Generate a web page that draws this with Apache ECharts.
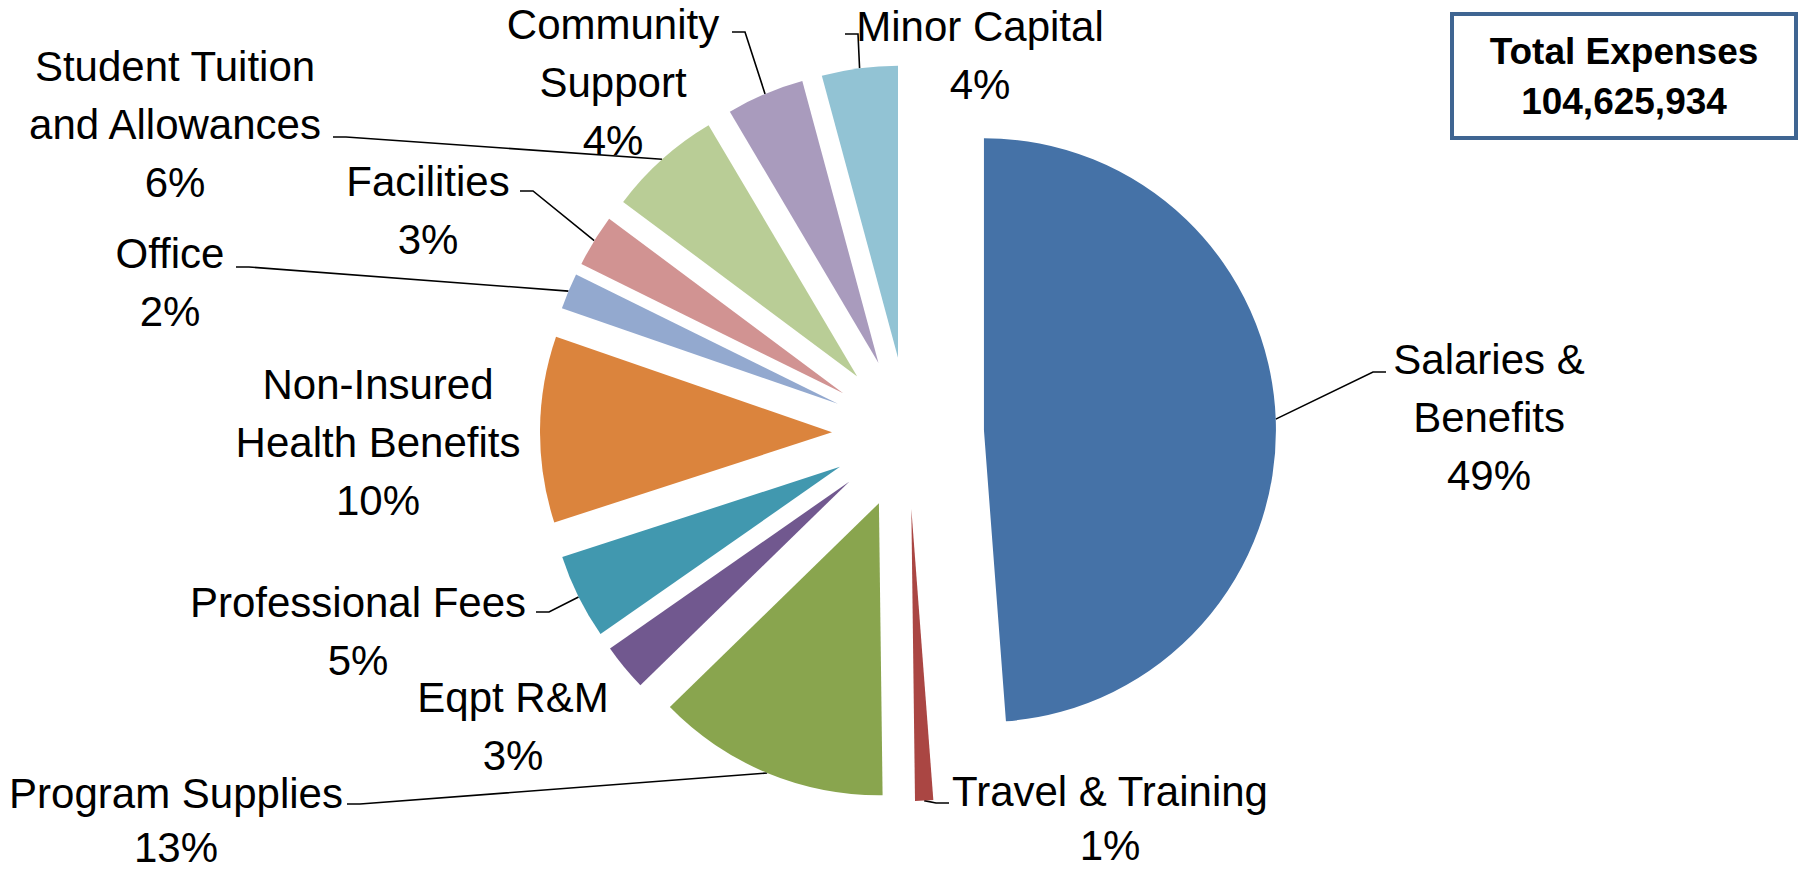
<!DOCTYPE html>
<html>
<head>
<meta charset="utf-8">
<script src="https://cdn.jsdelivr.net/npm/echarts@6/dist/echarts.min.js"></script>
<style>
  html, body { margin: 0; padding: 0; background: #fff; }
  #chart { width: 1798px; height: 874px; }
</style>
</head>
<body>
<div id="chart"></div>
<script>
  // slices, clockwise from 12 o'clock
  const categories = ['Salaries &\nBenefits', 'Travel & Training', 'Program Supplies', 'Eqpt R&M',
    'Professional Fees', 'Non-Insured\nHealth Benefits', 'Office', 'Facilities',
    'Student Tuition\nand Allowances', 'Community\nSupport', 'Minor Capital']
  // % of total expenses (labels show them rounded)
  const shares = [48.8, 1.0, 12.9, 2.6, 4.7, 10.3, 2.0, 2.9, 6.3, 4.3, 4.2]
  const colors = ['#4572A7', '#AA4643', '#89A54E', '#71588F', '#4198AF', '#DB843D',
    '#93A9CF', '#D19392', '#B9CD96', '#A99BBD', '#92C3D4']
  const totalLabel = 'Total Expenses\n104,625,934'

  // label block centres
  const labelX = [1489, 1110, 176, 513, 358, 378, 170, 428, 175, 613, 980]
  const labelY = [417, 818, 820, 726, 631, 442, 282, 210, 124, 82, 55]
  // where the leader line meets the label (null = no leader line)
  const lineEndX = [1386, 949, 347, null, 536, null, 236, 520, 333, 732, 845]
  const lineEndY = [372, 803, 804, null, 612, null, 267, 191, 137, 32, 34]

  const pieCenter = [908, 433]
  const pieRadius = 292
  const explode = 76

  const chart = echarts.init(document.getElementById('chart'), null, { renderer: 'svg' })

  // visible, exploded slices
  const sliceData = categories.map(function (name, i) {
    return { name: name, value: shares[i], selected: true, itemStyle: { color: colors[i] } }
  })
  // invisible twin pie whose rim sits on the exploded rim; carries labels + leader lines
  const labelData = categories.map(function (name, i) {
    const item = { name: name, value: shares[i], labelLine: { show: lineEndX[i] != null } }
    if (i === 1 || i === 2) item.label = { lineHeight: 54 }
    return item
  })

  chart.setOption({
    animation: false,
    textStyle: { fontFamily: 'Liberation Sans' },
    graphic: [{
      type: 'group',
      left: 1450,
      top: 12,
      children: [{
        type: 'rect',
        shape: { x: 0, y: 0, width: 344, height: 124 },
        style: { fill: '#fff', stroke: '#3F6592', lineWidth: 4 }
      }, {
        type: 'text',
        x: 172,
        y: 62,
        style: {
          text: totalLabel,
          align: 'center',
          verticalAlign: 'middle',
          font: 'bold 37px "Liberation Sans"',
          lineHeight: 50,
          fill: '#000'
        }
      }]
    }],
    series: [{
      type: 'pie',
      center: pieCenter,
      radius: pieRadius,
      startAngle: 90,
      clockwise: true,
      selectedMode: 'multiple',
      selectedOffset: explode,
      emphasis: { disabled: true },
      label: { show: false },
      labelLine: { show: false },
      data: sliceData
    }, {
      type: 'pie',
      center: pieCenter,
      radius: pieRadius + explode,
      startAngle: 90,
      clockwise: true,
      silent: true,
      avoidLabelOverlap: false,
      percentPrecision: 0,
      emphasis: { disabled: true },
      itemStyle: { color: 'rgba(0,0,0,0)' },
      label: {
        show: true,
        formatter: '{b}\n{d}%',
        fontSize: 42,
        lineHeight: 58,
        color: '#000',
        fontFamily: 'Liberation Sans'
      },
      labelLine: {
        show: true,
        length: 10,
        length2: 14,
        lineStyle: { color: '#000', width: 1.6 }
      },
      labelLayout: function (params) {
        const i = params.dataIndex
        const out = { x: labelX[i], y: labelY[i], align: 'center', verticalAlign: 'middle' }
        const pts = params.labelLinePoints
        if (lineEndX[i] != null && pts) {
          const rim = pts[0]
          const side = rim[0] > lineEndX[i] ? 1 : -1
          out.labelLinePoints = [
            [rim[0], rim[1]],
            [lineEndX[i] + side * 13, lineEndY[i]],
            [lineEndX[i], lineEndY[i]]
          ]
        }
        return out
      },
      data: labelData
    }]
  })
</script>
</body>
</html>
